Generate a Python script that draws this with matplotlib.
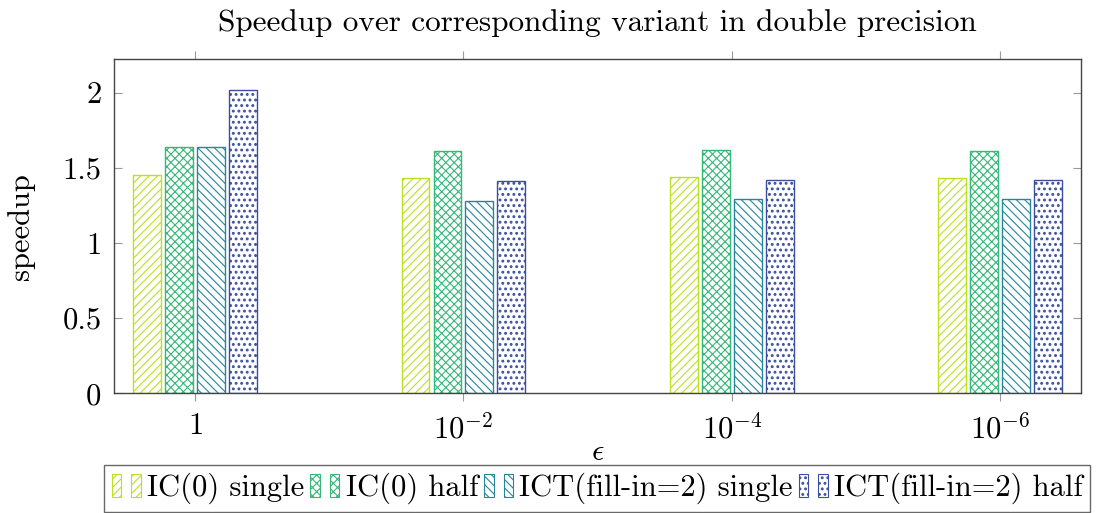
import matplotlib
matplotlib.use("Agg")
import matplotlib.pyplot as plt
import numpy as np
from matplotlib.legend_handler import HandlerBase
from matplotlib.patches import Rectangle

plt.rcParams["font.family"] = "serif"
plt.rcParams["font.serif"] = ["cmr10"]
plt.rcParams["mathtext.fontset"] = "cm"
plt.rcParams["axes.formatter.use_mathtext"] = True
plt.rcParams["hatch.linewidth"] = 0.8

# --- data ---
eps_labels = [r"$1$", r"$10^{-2}$", r"$10^{-4}$", r"$10^{-6}$"]
variants = ["IC(0) single", "IC(0) half", "ICT(fill-in=2) single", "ICT(fill-in=2) half"]
ic0_single = [1.45, 1.43, 1.44, 1.43]
ic0_half = [1.64, 1.61, 1.62, 1.61]
ict_single = [1.64, 1.28, 1.29, 1.29]
ict_half = [2.02, 1.41, 1.42, 1.42]
yticks = [0, 0.5, 1, 1.5, 2]
ytick_labels = ["0", "0.5", "1", "1.5", "2"]

series = [ic0_single, ic0_half, ict_single, ict_half]
colors = ["#bddf26", "#35b779", "#25859b", "#3b4f9e"]
hatches = ["////", "xxxx", "\\\\\\\\", "..."]
hatch_lw = [0.8, 0.8, 0.8, 1.3]
FS = 22


def set_hlw(artist, lw):
    try:
        artist.set_hatch_linewidth(lw)
    except AttributeError:
        pass


class TwoBarHandler(HandlerBase):
    # pgfplots-style ybar legend image: two small bars side by side
    def create_artists(self, legend, orig_handle, xdescent, ydescent,
                       width, height, fontsize, trans):
        w = width * 0.33
        h = height * 1.1
        y0 = -ydescent - 0.05 * height
        arts = []
        for x0 in (-xdescent, -xdescent + width * 0.67):
            r = Rectangle((x0, y0), w, h, facecolor="white",
                          edgecolor=orig_handle.get_edgecolor(),
                          hatch=orig_handle.get_hatch(), lw=0.8,
                          transform=trans)
            try:
                set_hlw(r, orig_handle.get_hatch_linewidth())
            except AttributeError:
                pass
            arts.append(r)
        return arts


fig = plt.figure(figsize=(10.96, 5.13), dpi=100)
ax = fig.add_axes([0.104, 0.233, 0.8826, 0.652])

x = np.arange(len(eps_labels))
width = 0.104
step = 0.119
handles = []
for i, (vals, col, h) in enumerate(zip(series, colors, hatches)):
    bars = ax.bar(x + (i - 1.5) * step, vals, width, facecolor="white",
                  edgecolor=col, hatch=h, linewidth=1.0, label=variants[i])
    for b in bars:
        set_hlw(b, hatch_lw[i])
    handles.append(bars[0])

ax.set_xlim(-0.302, 3.302)
ax.set_ylim(0, 2.224)
ax.set_xticks(x)
ax.set_xticklabels(eps_labels)
ax.set_yticks(yticks)
ax.set_yticklabels(ytick_labels)

ax.tick_params(axis="x", direction="out", length=6, width=0.8, color="#999999",
               top=True, labelsize=FS, pad=8)
ax.tick_params(axis="y", direction="in", length=6, width=0.8, color="#999999",
               right=True, labelsize=FS, pad=9)
for sp in ax.spines.values():
    sp.set_color("#444444")
    sp.set_linewidth(1.0)

ax.set_xlabel(r"$\epsilon$", fontsize=FS, labelpad=-4)
ax.set_ylabel("speedup", fontsize=FS, labelpad=20)
ax.set_title("Speedup over corresponding variant in double precision",
             fontsize=22.5, pad=20)

leg = fig.legend(handles, variants, loc="upper center",
                 bbox_to_anchor=(0.545, 0.093), ncol=4, fontsize=FS,
                 frameon=True, fancybox=False, edgecolor="#444444",
                 handler_map={h: TwoBarHandler() for h in handles},
                 handlelength=0.95, handletextpad=0.2, columnspacing=0.2,
                 borderpad=0.25, borderaxespad=0)
leg.get_frame().set_linewidth(1.0)

fig.savefig("out.png", dpi=100)
plt.close(fig)
